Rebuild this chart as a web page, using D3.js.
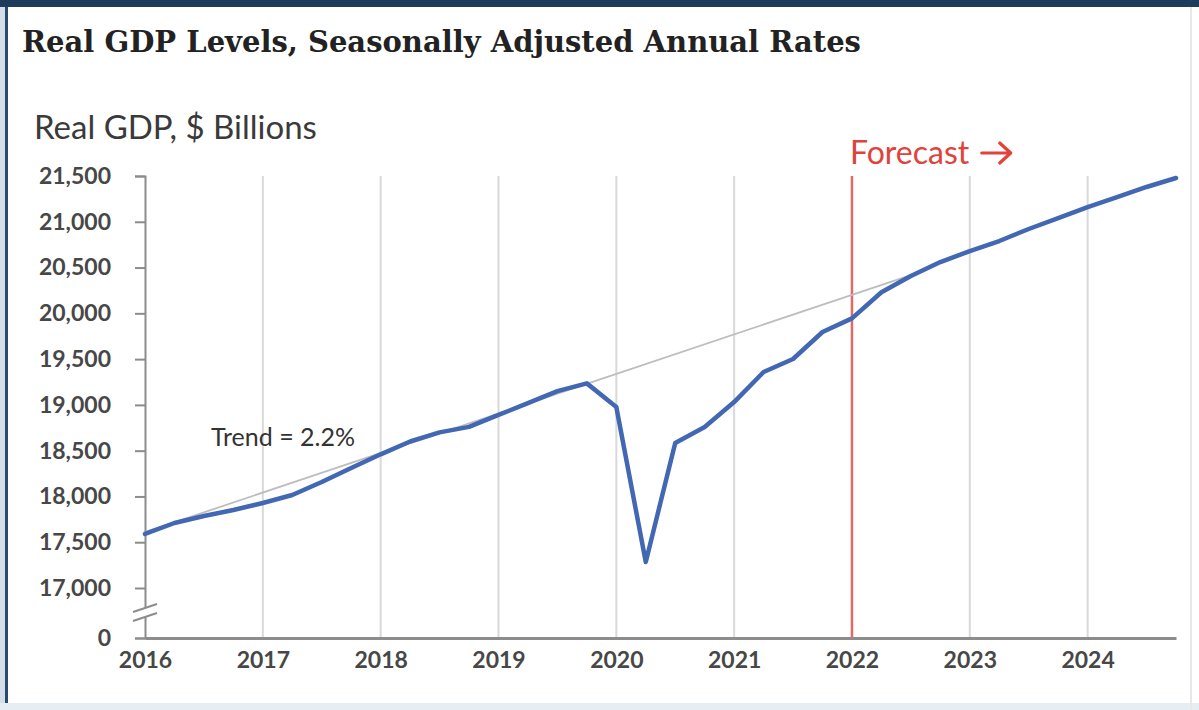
<!DOCTYPE html>
<html>
<head>
<meta charset="utf-8">
<script src="https://cdn.jsdelivr.net/npm/d3@7"></script>
<style>
  html, body { margin: 0; padding: 0; background: #ffffff; }
  svg { display: block; }
</style>
</head>
<body>
<svg id="chart" width="1199" height="710"></svg>
<script>
// Quarterly real GDP, $ billions (SAAR), 2016Q1 through 2024Q4
const quarters = [
  2016.00, 2016.25, 2016.50, 2016.75,
  2017.00, 2017.25, 2017.50, 2017.75,
  2018.00, 2018.25, 2018.50, 2018.75,
  2019.00, 2019.25, 2019.50, 2019.75,
  2020.00, 2020.25, 2020.50, 2020.75,
  2021.00, 2021.25, 2021.50, 2021.75,
  2022.00, 2022.25, 2022.50, 2022.75,
  2023.00, 2023.25, 2023.50, 2023.75,
  2024.00, 2024.25, 2024.50, 2024.75
];
const realGdp = [
  17590, 17710, 17786, 17852,
  17928, 18016, 18158, 18310,
  18460, 18600, 18700, 18760,
  18890, 19020, 19150, 19235,
  18977, 17284, 18584, 18758,
  19031, 19359, 19501, 19796,
  19945, 20230, 20407, 20560,
  20680, 20790, 20921, 21041,
  21161, 21270, 21380, 21478
];
// Pre-pandemic trend line (2.2% per year), start and end points
const trendYears = [2016.0, 2022.5];
const trendValues = [17610, 20418];

const yTicks = [0, 17000, 17500, 18000, 18500, 19000, 19500, 20000, 20500, 21000, 21500];
const xTicks = [2016, 2017, 2018, 2019, 2020, 2021, 2022, 2023, 2024];
const forecastStart = 2022;

const svg = d3.select("#chart");
const W = 1199, H = 710;

// Frame
svg.append("rect").attr("x", 0).attr("y", 0).attr("width", W).attr("height", H).attr("fill", "#ffffff");
svg.append("rect").attr("x", 0).attr("y", 0).attr("width", 5).attr("height", H).attr("fill", "#d3dee9");
svg.append("rect").attr("x", 5).attr("y", 0).attr("width", 3).attr("height", H).attr("fill", "#2b4a6e");
svg.append("rect").attr("x", 0).attr("y", H - 7).attr("width", W).attr("height", 7).attr("fill", "#e6edf3");
svg.append("rect").attr("x", 1190).attr("y", 0).attr("width", 2).attr("height", H).attr("fill", "#e8e8e8");
svg.append("rect").attr("x", 0).attr("y", 0).attr("width", W).attr("height", 7).attr("fill", "#1e3a5c");

// Title and axis caption
svg.append("text")
  .attr("x", 22).attr("y", 52)
  .attr("font-family", "'DejaVu Serif', serif")
  .attr("font-weight", "bold")
  .attr("font-size", 29)
  .attr("fill", "#222")
  .text("Real GDP Levels, Seasonally Adjusted Annual Rates");

svg.append("text")
  .attr("x", 34).attr("y", 139)
  .attr("font-family", "Lato, sans-serif")
  .attr("font-size", 33)
  .attr("fill", "#3a3a3a")
  .text("Real GDP, $ Billions");

// Scales: broken y axis, 0 sits just below 17,000
const x = d3.scaleLinear().domain([2016, 2024.75]).range([145, 1176]);
const y = d3.scaleLinear().domain([0, 17000, 21500]).range([638, 588, 176]);

const plotTop = y(21500), plotBottom = y(0);

// Vertical year gridlines
svg.append("g").selectAll("line")
  .data(xTicks.filter(d => d > 2016))
  .join("line")
  .attr("x1", d => x(d)).attr("x2", d => x(d))
  .attr("y1", plotTop).attr("y2", plotBottom)
  .attr("stroke", "#d9d9d9").attr("stroke-width", 2);

// Y axis
const yAxis = d3.axisLeft(y)
  .tickValues(yTicks)
  .tickSize(10)
  .tickPadding(24)
  .tickFormat(d3.format(","));
const gy = svg.append("g").attr("transform", `translate(${x(2016)},0)`).call(yAxis);
gy.select(".domain").attr("stroke", "#8c8c8c").attr("stroke-width", 2);
gy.selectAll(".tick line").attr("stroke", "#8c8c8c").attr("stroke-width", 2);
gy.selectAll(".tick text")
  .attr("font-family", "Lato, sans-serif")
  .attr("font-size", 23)
  .attr("font-weight", "bold")
  .attr("fill", "#474747");

// Axis break marks between 0 and 17,000
const breakY = (y(17000) + y(0)) / 2 + 4;
const bx = x(2016);
svg.append("rect").attr("x", bx - 3).attr("y", breakY - 9).attr("width", 6).attr("height", 9).attr("fill", "#ffffff");
[-9, 0].forEach(off => {
  svg.append("line")
    .attr("x1", bx - 12).attr("y1", breakY + off + 4)
    .attr("x2", bx + 12).attr("y2", breakY + off - 4)
    .attr("stroke", "#8c8c8c").attr("stroke-width", 2);
});

// X axis
const xAxis = d3.axisBottom(x)
  .tickValues(xTicks)
  .tickSize(0)
  .tickPadding(14)
  .tickFormat(d3.format("d"));
const gx = svg.append("g").attr("transform", `translate(0,${plotBottom})`).call(xAxis);
gx.select(".domain").attr("stroke", "#8c8c8c").attr("stroke-width", 3);
gx.selectAll(".tick text")
  .attr("font-family", "Lato, sans-serif")
  .attr("font-size", 23)
  .attr("font-weight", "bold")
  .attr("fill", "#474747");

// Forecast marker: vertical rule, label and arrow
const forecastColor = "#e0433a";
svg.append("line")
  .attr("x1", x(forecastStart)).attr("x2", x(forecastStart))
  .attr("y1", plotTop).attr("y2", plotBottom)
  .attr("stroke", "#e06a66").attr("stroke-width", 2.5);
const fc = svg.append("text")
  .attr("x", x(forecastStart) - 2).attr("y", 164)
  .attr("font-family", "Lato, sans-serif")
  .attr("font-size", 32)
  .attr("fill", forecastColor)
  .text("Forecast");
const fcBox = fc.node().getBBox();
const ax0 = fcBox.x + fcBox.width + 12, ax1 = ax0 + 29, ay = 153;
svg.append("path")
  .attr("d", `M${ax0},${ay}H${ax1 - 2}M${ax1 - 11},${ay - 10}L${ax1},${ay}L${ax1 - 11},${ay + 10}`)
  .attr("fill", "none")
  .attr("stroke", forecastColor)
  .attr("stroke-width", 3.2)
  .attr("stroke-linecap", "round")
  .attr("stroke-linejoin", "round");

// Trend line
const trendLine = d3.line().x((d, i) => x(trendYears[i])).y(d => y(d));
svg.append("path")
  .datum(trendValues)
  .attr("d", trendLine)
  .attr("fill", "none")
  .attr("stroke", "#bdbdbd")
  .attr("stroke-width", 1.8);

svg.append("text")
  .attr("x", 211).attr("y", 446)
  .attr("font-family", "Lato, sans-serif")
  .attr("font-size", 25)
  .attr("fill", "#333")
  .text("Trend = 2.2%");

// GDP series
const gdpLine = d3.line().x((d, i) => x(quarters[i])).y(d => y(d));
svg.append("path")
  .datum(realGdp)
  .attr("d", gdpLine)
  .attr("fill", "none")
  .attr("stroke", "#4268b4")
  .attr("stroke-width", 4.5)
  .attr("stroke-linejoin", "round")
  .attr("stroke-linecap", "round");
</script>
</body>
</html>
